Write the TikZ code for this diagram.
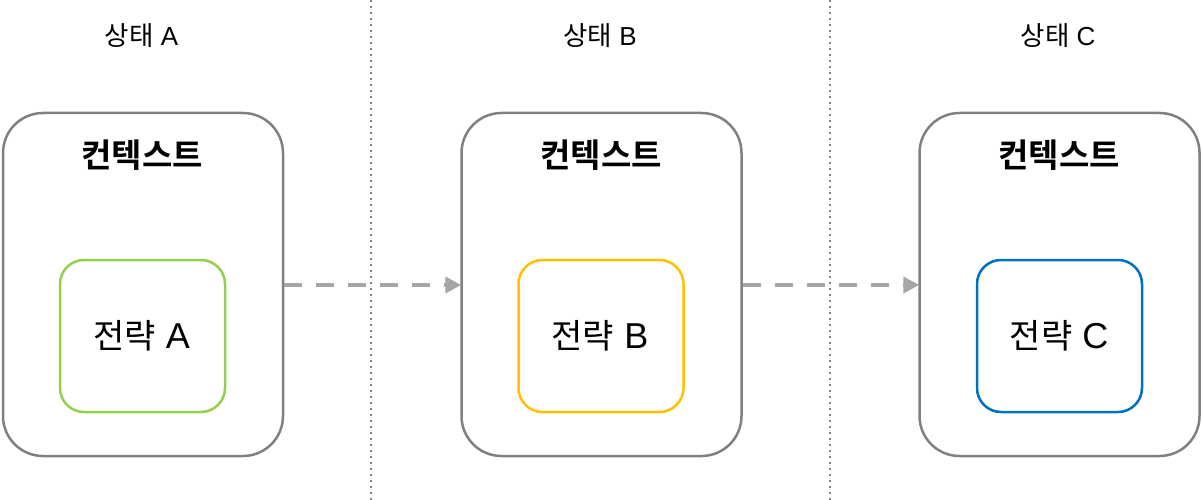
\documentclass[tikz,border=0pt]{standalone}
\usepackage{fontspec}
\setmainfont{Noto Sans CJK KR}
\newfontfamily\krbold{Noto Sans CJK KR Bold}
\newfontfamily\latinfam{Liberation Sans}
\newcommand{\latpart}[2]{{\latinfam\fontsize{#1}{#1}\selectfont\ #2}}
\usetikzlibrary{arrows.meta}
\definecolor{boxgray}{HTML}{808080}
\definecolor{arrgray}{HTML}{A6A6A6}
\definecolor{sgreen}{HTML}{92D050}
\definecolor{syellow}{HTML}{FFC000}
\definecolor{sblue}{HTML}{0070C0}
\tikzset{
  ctxbox/.style={draw=boxgray, line width=2.5pt, rounded corners=40pt, minimum width=280pt, minimum height=343pt, inner sep=0pt},
  stratbox/.style={draw=#1, line width=2.5pt, rounded corners=24pt, minimum width=165pt, minimum height=152pt, inner sep=0pt},
  stratlabel/.style={font=\fontsize{34pt}{38pt}\selectfont, inner sep=0pt},
  statelabel/.style={font=\fontsize{26.5pt}{30pt}\selectfont, inner sep=0pt},
  ctxlabel/.style={font=\krbold\fontsize{33pt}{38pt}\selectfont, inner sep=0pt},
  divider/.style={draw=boxgray, line width=2pt, dash pattern=on 2pt off 4pt},
  transarrow/.style={draw=arrgray, line width=4pt, dash pattern=on 18pt off 14pt, -{Triangle[length=16pt,width=16pt]}, shorten >=-1pt}
}
\begin{document}
\begin{tikzpicture}[x=1pt,y=-1pt]
\useasboundingbox (0,0) rectangle (1202,500);
\coordinate (d1t) at (371,0); \coordinate (d1b) at (371,500);
\coordinate (d2t) at (830,0); \coordinate (d2b) at (830,500);
\draw[divider] (d1t) -- (d1b);
\draw[divider] (d2t) -- (d2b);
\node[statelabel] (sA) at (141.5,36) {상태\latpart{26pt}{A}};
\node[statelabel] (sB) at (600,36) {상태\latpart{26pt}{B}};
\node[statelabel] (sC) at (1058,36) {상태\latpart{26pt}{C}};
\node[ctxbox] (cA) at (143,284.5) {};
\node[ctxbox] (cB) at (601.5,284.5) {};
\node[ctxbox] (cC) at (1059.5,284.5) {};
\node[ctxlabel] (tA) at (142,155) {컨텍스트};
\node[ctxlabel] (tB) at (601,155) {컨텍스트};
\node[ctxlabel] (tC) at (1059,155) {컨텍스트};
\node[stratbox=sgreen] (pA) at (142.5,336) {};
\node[stratbox=syellow] (pB) at (601,336) {};
\node[stratbox=sblue] (pC) at (1059.5,336) {};
\node[stratlabel] (lA) at (141.5,336) {전략\latpart{36pt}{A}};
\node[stratlabel] (lB) at (600,336) {전략\latpart{36pt}{B}};
\node[stratlabel] (lC) at (1059,336) {전략\latpart{36pt}{C}};
\draw[transarrow] (cA.east |- 0,285) -- (cB.west |- 0,285);
\draw[transarrow] (cB.east |- 0,285) -- (cC.west |- 0,285);
\end{tikzpicture}
\end{document}
